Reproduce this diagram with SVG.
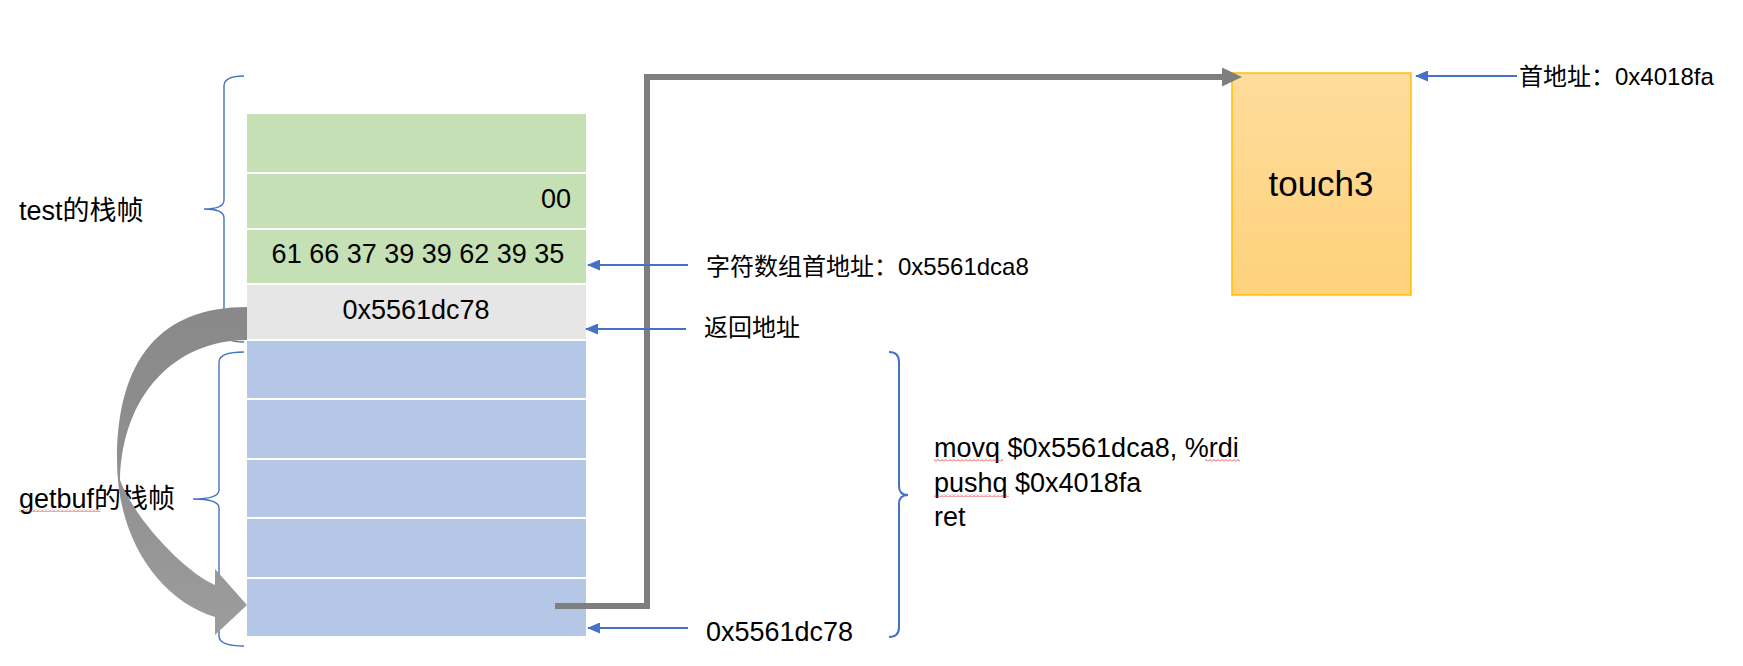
<svg xmlns="http://www.w3.org/2000/svg" width="1743" height="666" viewBox="0 0 1743 666">
<style>
  text { font-family: "Liberation Sans", "Noto Sans CJK SC", sans-serif; fill: #000; }
  .t27 { font-size: 27px; }
  .t24 { font-size: 24px; }
  .green { fill: #c5e0b4; }
  .grey { fill: #e7e6e6; }
  .blue { fill: #b4c7e7; }
  .brace { fill: none; stroke: #4472c4; stroke-width: 1.4; }
  .ptr { stroke: #4472c4; stroke-width: 2; marker-end: url(#blueHead); }
  .wavy { fill: url(#wavy); }
</style>
<defs>
  <marker id="blueHead" markerWidth="13" markerHeight="11" refX="12" refY="5.5" orient="auto" markerUnits="userSpaceOnUse">
    <path d="M0 0 L13 5.5 L0 11 Z" fill="#4472c4"/>
  </marker>
  <marker id="greyHead" markerWidth="20" markerHeight="19" refX="2" refY="9.5" orient="auto" markerUnits="userSpaceOnUse">
    <path d="M0 0 L20 9.5 L0 19 Z" fill="#7f7f7f"/>
  </marker>
  <linearGradient id="touchFill" x1="0" y1="0" x2="0" y2="1">
    <stop offset="0" stop-color="#fedc9c"/>
    <stop offset="1" stop-color="#fed27c"/>
  </linearGradient>
  <linearGradient id="curveFill" gradientUnits="userSpaceOnUse" x1="0" y1="307" x2="0" y2="640">
    <stop offset="0" stop-color="#898989"/>
    <stop offset="0.45" stop-color="#8f8f8f"/>
    <stop offset="1" stop-color="#9d9d9d"/>
  </linearGradient>
  <pattern id="wavy" width="4" height="3" patternUnits="userSpaceOnUse">
    <path d="M0 2.5 L2 0.5 L4 2.5" fill="none" stroke="#e02020" stroke-width="0.8"/>
  </pattern>
</defs>

<rect x="0" y="0" width="1743" height="666" fill="#ffffff"/>

<!-- stack rows -->
<g id="stack">
  <g id="row-1"><rect class="green" x="247" y="114" width="339" height="58"/></g>
  <g id="row-2"><rect class="green" x="247" y="174" width="339" height="54"/>
    <text class="t27" x="571" y="208" text-anchor="end">00</text></g>
  <g id="row-3"><rect class="green" x="247" y="230" width="339" height="53"/>
    <text class="t27" x="418" y="263" text-anchor="middle">61 66 37 39 39 62 39 35</text></g>
  <g id="row-4"><rect class="grey" x="247" y="285" width="339" height="54"/>
    <text class="t27" x="416" y="319" text-anchor="middle">0x5561dc78</text></g>
  <g id="row-5"><rect class="blue" x="247" y="341" width="339" height="57"/></g>
  <g id="row-6"><rect class="blue" x="247" y="400" width="339" height="58"/></g>
  <g id="row-7"><rect class="blue" x="247" y="460" width="339" height="57"/></g>
  <g id="row-8"><rect class="blue" x="247" y="519" width="339" height="58"/></g>
  <g id="row-9"><rect class="blue" x="247" y="579" width="339" height="57"/></g>
</g>

<!-- frame labels with braces -->
<g id="test-frame">
  <path class="brace" d="M244 76 Q224 76 224 86 L224 200 Q224 209 204 209 Q224 209 224 218 L224 332 Q224 342 244 342"/>
  <text class="t27" x="19" y="220">test的栈帧</text>
</g>
<g id="getbuf-frame">
  <path class="brace" d="M244 352 Q219 352 219 362 L219 490 Q219 499 193 499 Q219 499 219 508 L219 636 Q219 646 244 646"/>
  <text class="t27" x="19" y="508">getbuf的栈帧</text>
  <rect class="wavy" x="19" y="509" width="82" height="3"/>
</g>

<!-- address labels -->
<g id="label-array">
  <text class="t24" x="706" y="275">字符数组首地址：0x5561dca8</text>
</g>
<g id="label-return">
  <text class="t24" x="704" y="336">返回地址</text>
</g>
<g id="label-bottom">
  <text class="t27" x="706" y="641">0x5561dc78</text>
</g>

<!-- injected code -->
<g id="code">
  <path class="brace" style="stroke-width:2" d="M889 352 Q899 352 899 362 L899 486 Q899 495 908 495 Q899 495 899 504 L899 627 Q899 637 889 637"/>
  <text class="t27" x="934" y="457">movq $0x5561dca8, %rdi</text>
  <text class="t27" x="934" y="492">pushq $0x4018fa</text>
  <text class="t27" x="934" y="526">ret</text>
  <rect class="wavy" x="934" y="459" width="69" height="3"/>
  <rect class="wavy" x="1205" y="459" width="35" height="3"/>
  <rect class="wavy" x="934" y="494" width="75" height="3"/>
</g>

<!-- touch3 -->
<g id="touch3">
  <rect x="1232" y="73" width="179" height="222" fill="url(#touchFill)" stroke="#ffc000" stroke-width="1.5"/>
  <text x="1321" y="196" text-anchor="middle" style="font-size:35px">touch3</text>
</g>
<g id="label-touch3">
  <text class="t24" x="1519" y="85">首地址：0x4018fa</text>
</g>

<!-- connectors -->
<g id="connectors">
  <path id="curved-arrow" fill="url(#curveFill)" d="M247 307 C160 307 117 360 117 460 C117 540 160 600 215 617 L215 635 L247 605 L215 569 L215 585 C185 572 135 520 120 480 C122 395 175 340 247 340 Z"/>
  <path id="jump" d="M555 606 H647 V77 H1224" fill="none" stroke="#7f7f7f" stroke-width="6" stroke-linejoin="miter" marker-end="url(#greyHead)"/>
  <line class="ptr" x1="688" y1="265" x2="588" y2="265"/>
  <line class="ptr" x1="686" y1="329" x2="586" y2="329"/>
  <line class="ptr" x1="688" y1="628" x2="588" y2="628"/>
  <line class="ptr" x1="1517" y1="76" x2="1416" y2="76"/>
</g>
</svg>
